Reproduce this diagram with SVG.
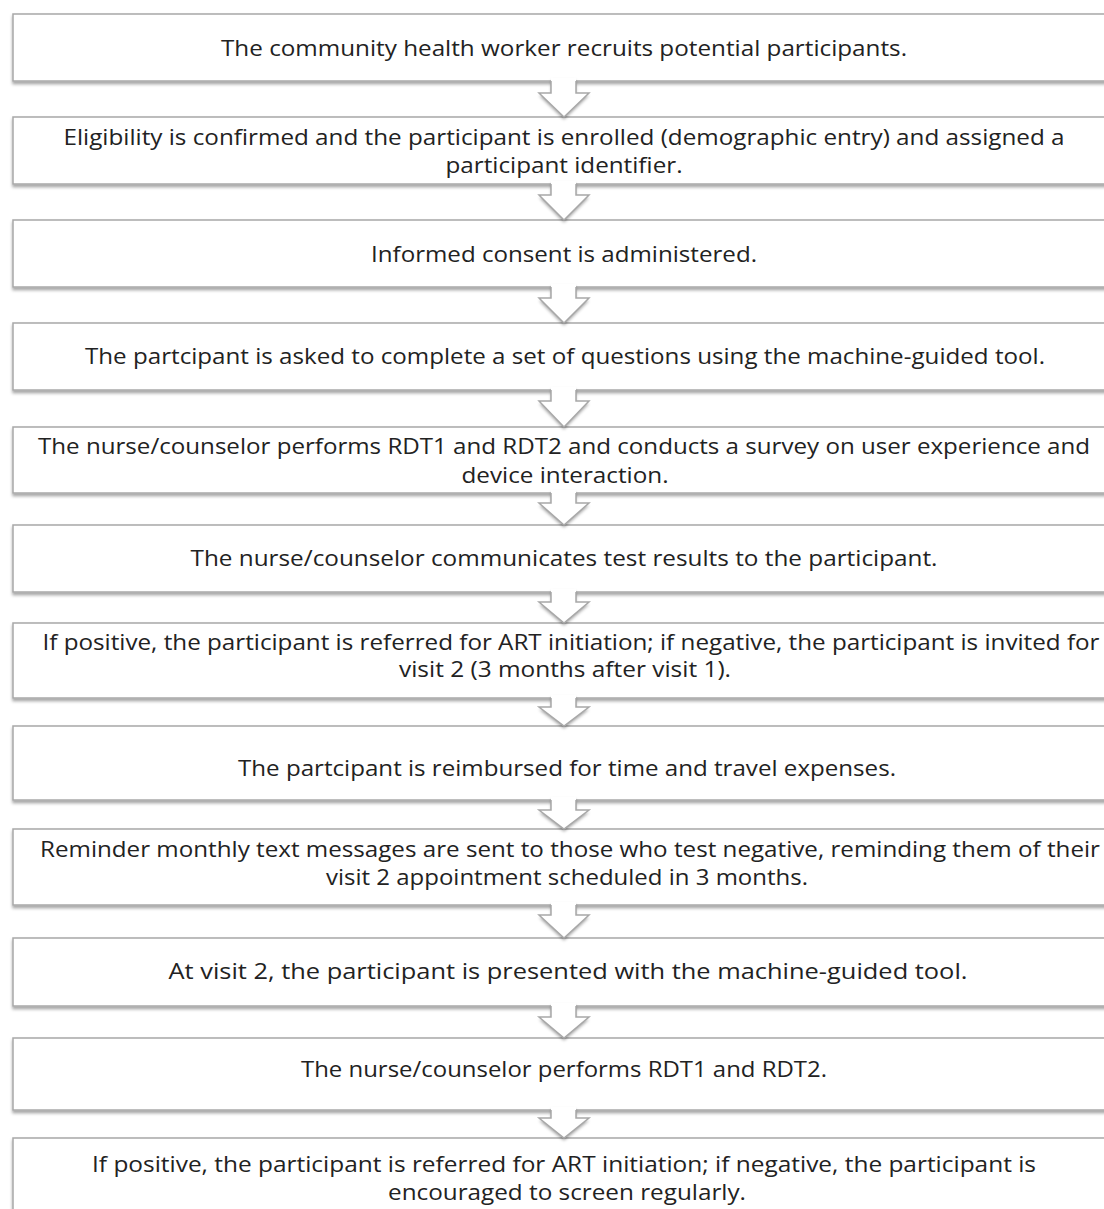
<svg xmlns="http://www.w3.org/2000/svg" width="1104" height="1209" viewBox="0 0 1104 1209">
<defs>
<filter id="sh" x="-5%" y="-20%" width="110%" height="150%">
<feDropShadow dx="0" dy="2.5" stdDeviation="1.5" flood-color="#000" flood-opacity="0.35"/>
</filter>
<style>
.box{fill:#fff;stroke:#a8a8a8;stroke-width:1.5;filter:url(#sh)}
.af{fill:#fff;stroke:none}
.as{fill:none;stroke:#a8a8a8;stroke-width:1.5;stroke-linejoin:miter}
.ash{filter:url(#sh)}
text{font-family:"Open Sans","Liberation Sans",sans-serif;font-size:22px;fill:#222;text-anchor:middle}
</style>
</defs>
<rect width="1104" height="1209" fill="#fff"/>
<g id="n1"><rect class="box" x="13" y="14" width="1110" height="67"/><text x="564" y="56" textLength="686" lengthAdjust="spacingAndGlyphs">The community health worker recruits potential participants.</text></g>
<g id="n2"><rect class="box" x="13" y="117" width="1110" height="67"/><text x="564" y="144.5" textLength="1001" lengthAdjust="spacingAndGlyphs">Eligibility is confirmed and the participant is enrolled (demographic entry) and assigned a</text><text x="564" y="172.5" textLength="237" lengthAdjust="spacingAndGlyphs">participant identifier.</text></g>
<g id="n3"><rect class="box" x="13" y="220" width="1110" height="67"/><text x="564" y="262" textLength="386" lengthAdjust="spacingAndGlyphs">Informed consent is administered.</text></g>
<g id="n4"><rect class="box" x="13" y="323" width="1110" height="67"/><text x="565" y="364" textLength="960" lengthAdjust="spacingAndGlyphs">The partcipant is asked to complete a set of questions using the machine-guided tool.</text></g>
<g id="n5"><rect class="box" x="13" y="427" width="1110" height="66"/><text x="564" y="453.5" textLength="1052" lengthAdjust="spacingAndGlyphs">The nurse/counselor performs RDT1 and RDT2 and conducts a survey on user experience and</text><text x="565" y="482.5" textLength="207" lengthAdjust="spacingAndGlyphs">device interaction.</text></g>
<g id="n6"><rect class="box" x="13" y="525" width="1110" height="67"/><text x="564" y="566" textLength="747" lengthAdjust="spacingAndGlyphs">The nurse/counselor communicates test results to the participant.</text></g>
<g id="n7"><rect class="box" x="13" y="623" width="1110" height="75"/><text x="571" y="649.5" textLength="1057" lengthAdjust="spacingAndGlyphs">If positive, the participant is referred for ART initiation; if negative, the participant is invited for</text><text x="565" y="676.5" textLength="332" lengthAdjust="spacingAndGlyphs">visit 2 (3 months after visit 1).</text></g>
<g id="n8"><rect class="box" x="13" y="726" width="1110" height="74"/><text x="567" y="776" textLength="658" lengthAdjust="spacingAndGlyphs">The partcipant is reimbursed for time and travel expenses.</text></g>
<g id="n9"><rect class="box" x="13" y="829" width="1110" height="76"/><text x="570" y="856.5" textLength="1060" lengthAdjust="spacingAndGlyphs">Reminder monthly text messages are sent to those who test negative, reminding them of their</text><text x="567" y="884.5" textLength="482" lengthAdjust="spacingAndGlyphs">visit 2 appointment scheduled in 3 months.</text></g>
<g id="n10"><rect class="box" x="13" y="938" width="1110" height="68"/><text x="568" y="979" textLength="799" lengthAdjust="spacingAndGlyphs">At visit 2, the participant is presented with the machine-guided tool.</text></g>
<g id="n11"><rect class="box" x="13" y="1038" width="1110" height="72"/><text x="564" y="1077" textLength="526" lengthAdjust="spacingAndGlyphs">The nurse/counselor performs RDT1 and RDT2.</text></g>
<g id="n12"><rect class="box" x="13" y="1138" width="1110" height="90"/><text x="564" y="1171.5" textLength="944" lengthAdjust="spacingAndGlyphs">If positive, the participant is referred for ART initiation; if negative, the participant is</text><text x="567" y="1199.5" textLength="358" lengthAdjust="spacingAndGlyphs">encouraged to screen regularly.</text></g>
<g id="connectors">
<g class="ash">
<path class="af" d="M551,78 V93 H539 L564,117 L589,93 H576 V78 Z"/>
<path class="af" d="M551,181 V195 H539 L564,220 L589,195 H576 V181 Z"/>
<path class="af" d="M551,284 V298 H539 L564,323 L589,298 H576 V284 Z"/>
<path class="af" d="M551,387 V401 H539 L564,427 L589,401 H576 V387 Z"/>
<path class="af" d="M551,490 V503 H539 L564,525 L589,503 H576 V490 Z"/>
<path class="af" d="M551,589 V602 H539 L564,623 L589,602 H576 V589 Z"/>
<path class="af" d="M551,695 V707 H539 L564,726 L589,707 H576 V695 Z"/>
<path class="af" d="M551,797 V810 H539 L564,829 L589,810 H576 V797 Z"/>
<path class="af" d="M551,902 V915 H539 L564,938 L589,915 H576 V902 Z"/>
<path class="af" d="M551,1003 V1017 H539 L564,1038 L589,1017 H576 V1003 Z"/>
<path class="af" d="M551,1107 V1118 H539 L564,1138 L589,1118 H576 V1107 Z"/>
</g>
<path class="as" d="M551,81 V93 H539 L564,117 L589,93 H576 V81"/>
<path class="as" d="M551,184 V195 H539 L564,220 L589,195 H576 V184"/>
<path class="as" d="M551,287 V298 H539 L564,323 L589,298 H576 V287"/>
<path class="as" d="M551,390 V401 H539 L564,427 L589,401 H576 V390"/>
<path class="as" d="M551,493 V503 H539 L564,525 L589,503 H576 V493"/>
<path class="as" d="M551,592 V602 H539 L564,623 L589,602 H576 V592"/>
<path class="as" d="M551,698 V707 H539 L564,726 L589,707 H576 V698"/>
<path class="as" d="M551,800 V810 H539 L564,829 L589,810 H576 V800"/>
<path class="as" d="M551,905 V915 H539 L564,938 L589,915 H576 V905"/>
<path class="as" d="M551,1006 V1017 H539 L564,1038 L589,1017 H576 V1006"/>
<path class="as" d="M551,1110 V1118 H539 L564,1138 L589,1118 H576 V1110"/>
</g>
</svg>
